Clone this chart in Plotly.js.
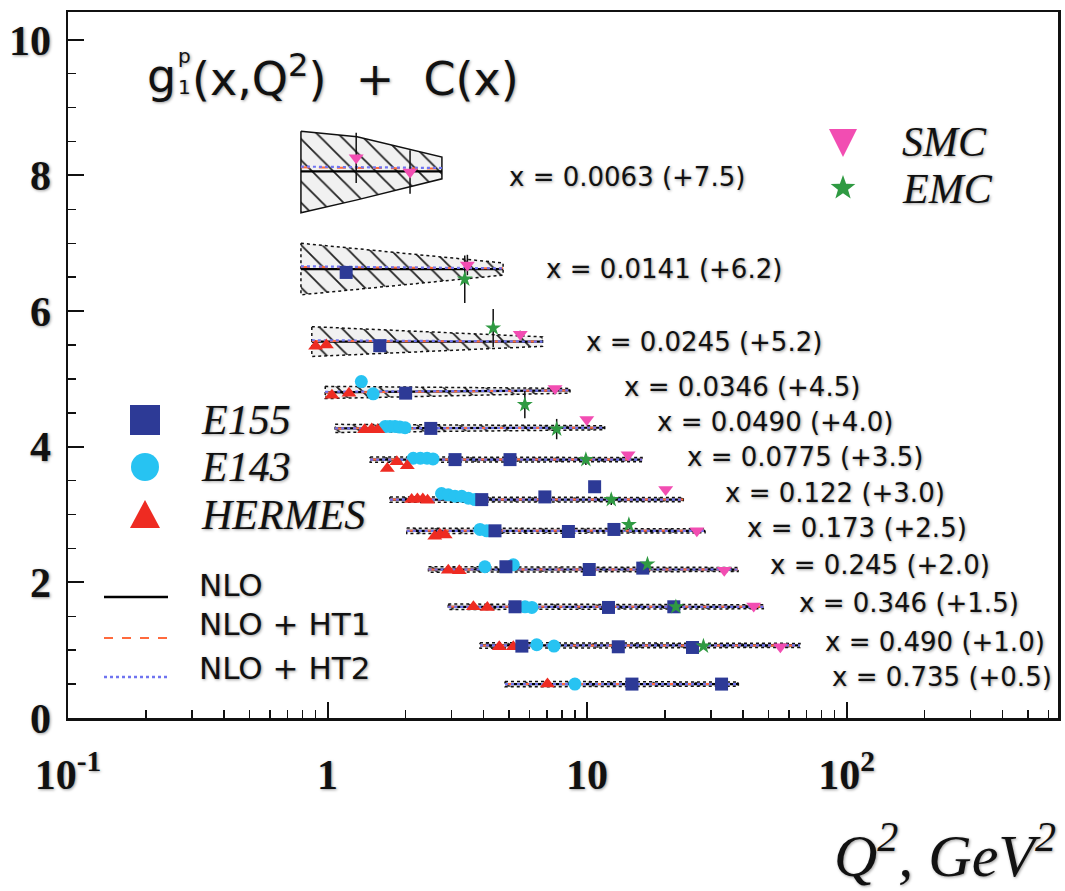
<!DOCTYPE html>
<html><head><meta charset="utf-8">
<script src="https://cdn.plot.ly/plotly-3.0.1.min.js"></script>
<style>html,body{margin:0;padding:0;background:#fff}</style>
</head><body><div id="chart" style="width:1065px;height:891px"></div>
<script>
// ---------- DATA ----------
const rowX = ['0.0063','0.0141','0.0245','0.0346','0.0490','0.0775','0.122','0.173','0.245','0.346','0.490','0.735'];
const rowOffset = [7.5,6.2,5.2,4.5,4.0,3.5,3.0,2.5,2.0,1.5,1.0,0.5];

// theory curves (g1 values, before offset): Q2 range and start/end values
const curveQ2Min = [0.79,0.79,0.87,0.98,1.07,1.46,1.74,2.02,2.45,2.92,3.87,4.83];
const curveQ2Max = [2.76,4.75,6.74,8.6,11.7,16.3,23.5,28.5,38.2,47.8,66.2,38.3];
const nloStart = [0.56,0.42,0.35,0.30,0.27,0.31,0.22,0.26,0.19,0.14,0.07,0.00];
const nloEnd   = [0.56,0.42,0.35,0.33,0.28,0.31,0.22,0.26,0.19,0.14,0.07,0.00];
const ht1Start = [0.62,0.45,0.36,0.30,0.27,0.31,0.22,0.26,0.19,0.14,0.07,0.00];
const ht1End   = [0.60,0.43,0.35,0.33,0.28,0.31,0.22,0.26,0.19,0.14,0.07,0.00];
const ht2Start = [0.63,0.46,0.37,0.31,0.27,0.31,0.22,0.26,0.19,0.14,0.07,0.00];
const ht2End   = [0.61,0.43,0.35,0.33,0.28,0.31,0.22,0.26,0.19,0.14,0.07,0.00];

// uncertainty bands (g1 values, before offset)
const bandQ2 = [[0.79,1.3,2.76],[0.79,4.75],[0.87,6.74],[0.98,8.6],[1.07,11.7],[1.46,16.3],[1.74,23.5],[2.02,28.5],[2.45,38.2],[2.92,47.8],[3.87,66.2],[4.83,38.3]];
const bandHi = [[1.15,1.07,0.77],[0.80,0.51],[0.57,0.42],[0.39,0.36],[0.33,0.31],[0.35,0.34],[0.26,0.25],[0.30,0.29],[0.23,0.22],[0.18,0.17],[0.11,0.10],[0.04,0.03]];
const bandLo = [[-0.05,0.14,0.45],[0.04,0.33],[0.13,0.28],[0.21,0.29],[0.21,0.25],[0.27,0.28],[0.18,0.19],[0.22,0.23],[0.15,0.16],[0.10,0.11],[0.03,0.04],[-0.04,-0.03]];

// E155
const e155Row = [1,2,3,4,5,5,6,6,6,7,7,7,8,8,8,9,9,9,10,10,10,11,11];
const e155Q2  = [1.18,1.59,2.0,2.5,3.1,5.05,3.93,6.88,10.7,4.42,8.48,12.7,4.87,10.2,16.4,5.28,12.1,21.6,5.61,13.2,25.5,14.9,33.0];
const e155G1  = [0.37,0.29,0.29,0.27,0.31,0.31,0.22,0.26,0.41,0.26,0.25,0.28,0.23,0.19,0.21,0.14,0.13,0.14,0.06,0.05,0.04,0.00,0.00];
// E143
const e143Row = [3,3,4,4,4,4,4,5,5,5,5,6,6,6,6,6,6,7,7,8,8,9,9,10,10,11];
const e143Q2  = [1.35,1.50,1.67,1.74,1.82,1.90,1.99,2.14,2.28,2.42,2.55,2.75,2.92,3.10,3.29,3.49,3.70,3.87,4.11,4.04,5.20,5.77,6.13,6.40,7.46,8.98];
const e143G1  = [0.46,0.28,0.30,0.30,0.30,0.29,0.28,0.33,0.33,0.33,0.32,0.31,0.29,0.27,0.27,0.24,0.22,0.28,0.26,0.23,0.26,0.14,0.13,0.08,0.06,0.00];
// HERMES
const hermRow = [2,2,3,3,4,4,4,5,5,5,6,6,6,6,7,7,7,8,8,9,9,10,10,11];
const hermQ2  = [0.90,0.99,1.04,1.21,1.39,1.48,1.56,1.70,1.85,2.03,2.11,2.22,2.33,2.43,2.59,2.71,2.84,2.92,3.22,3.65,4.13,4.59,5.20,7.04];
const hermG1  = [0.28,0.30,0.26,0.29,0.25,0.26,0.25,0.18,0.28,0.22,0.22,0.23,0.23,0.21,0.18,0.21,0.20,0.18,0.17,0.14,0.13,0.05,0.05,0.00];
// SMC
const smcRow = [0,0,1,2,3,4,5,6,7,8,9,10];
const smcQ2  = [1.29,2.08,3.46,5.53,7.53,9.98,14.4,20.1,26.5,33.8,43.9,55.6];
const smcG1  = [0.76,0.55,0.48,0.46,0.36,0.40,0.38,0.37,0.26,0.18,0.15,0.05];
const smcErr = [0.37,0.32,0.15,0.05,0.03,0.03,0.03,0.03,0.02,0.02,0.02,0.02];
// EMC
const emcRow = [1,2,3,4,5,6,7,8,9,10];
const emcQ2  = [3.38,4.35,5.76,7.64,9.9,12.4,14.5,17.1,22.0,28.1];
const emcG1  = [0.27,0.55,0.12,0.26,0.31,0.22,0.35,0.27,0.14,0.06];
const emcErr = [0.35,0.28,0.20,0.15,0.08,0.08,0.05,0.04,0.03,0.03];

const xTickVals = [0.1,1,10,100];
const xTickText = ['10<sup>-1</sup>','1','10','10<sup>2</sup>'];
const yTickVals = [0,2,4,6,8,10];

// ---------- LAYOUT HELPERS ----------
const L=68, R=1058, T=12, B=718;
const px2x = p => (p-L)/(R-L);
const py2y = p => (B-p)/(B-T);
const shadow = '1px 1px 3px rgba(0,0,0,0.4)';

const traces = [];
// bands
bandQ2.forEach((qs,i)=>{
  const xs = qs.concat(qs.slice().reverse(), [qs[0]]);
  const ys = bandHi[i].map(v=>v+rowOffset[i]).concat(bandLo[i].slice().reverse().map(v=>v+rowOffset[i]), [bandHi[i][0]+rowOffset[i]]);
  traces.push({type:'scatter', mode:'lines', x:xs, y:ys, fill:'toself',
    fillcolor:'rgba(200,200,200,0.35)',
    fillpattern:{shape:'\\', size:15, solidity:0.12, fgcolor:'#222', bgcolor:'rgba(215,215,215,0.35)'},
    line:{color:'#111', width:1.5, dash: i===0?'solid':'dot'}, hoverinfo:'skip', showlegend:false});
});
// curves
function curveTrace(st, en, style){
  const x=[], y=[];
  for(let i=0;i<rowX.length;i++){
    x.push(curveQ2Min[i], curveQ2Max[i], null);
    y.push(st[i]+rowOffset[i], en[i]+rowOffset[i], null);
  }
  return Object.assign({type:'scatter', mode:'lines', x, y, connectgaps:false, showlegend:false, hoverinfo:'skip'}, style);
}
traces.push(curveTrace(nloStart, nloEnd, {line:{color:'#000', width:2.2}}));
traces.push(curveTrace(ht1Start, ht1End, {line:{color:'#ff6a3d', width:2, dash:'dash'}}));
traces.push(curveTrace(ht2Start, ht2End, {line:{color:'#6f74f0', width:2.2, dash:'dot'}}));

function pts(rows, q2, g1, marker, err){
  const t = {type:'scatter', mode:'markers', x:q2, y:g1.map((v,i)=>v+rowOffset[rows[i]]), marker, showlegend:false, hoverinfo:'skip'};
  if(err) t.error_y = {type:'data', array:err, visible:true, color:'#111', thickness:1.5, width:0};
  return t;
}
traces.push(pts(e143Row, e143Q2, e143G1, {symbol:'circle', size:13, color:'#27c3f2'}));
traces.push(pts(hermRow, hermQ2, hermG1, {symbol:'triangle-up', size:13, color:'#ee2b22'}));
traces.push(pts(e155Row, e155Q2, e155G1, {symbol:'square', size:13, color:'#2d3a96'}));
traces.push(pts(emcRow, emcQ2, emcG1, {symbol:'star', size:12, color:'#2f9a42'}, emcErr));
traces.push(pts(smcRow, smcQ2, smcG1, {symbol:'triangle-down', size:13, color:'#f24db2'}, smcErr));

// annotations
const ann = [];
const rowLabelPx = [507,544,584,622,655,685,723,745,768,797,823,830];
const rowLabelPy = [177,269,342,387,422,457,493,528,565,603,642,677];
rowX.forEach((xv,i)=>{
  ann.push({xref:'paper', yref:'paper', x:px2x(rowLabelPx[i]), y:py2y(rowLabelPy[i]), xanchor:'left', yanchor:'middle',
    text:'x = '+xv+' (+'+rowOffset[i].toFixed(1)+')', showarrow:false,
    font:{family:'DejaVu Sans', size:26, color:'#111', shadow:shadow}});
});
// title
const titleFont = s => ({family:'DejaVu Sans', size:s, color:'#111', shadow:shadow});
ann.push({xref:'paper', yref:'paper', x:px2x(177), y:py2y(76), xanchor:'right', yanchor:'middle', text:'g', showarrow:false, borderpad:0, font:titleFont(46)});
ann.push({xref:'paper', yref:'paper', x:px2x(177), y:py2y(56), xanchor:'left', yanchor:'middle', text:'p', showarrow:false, borderpad:0, font:titleFont(20)});
ann.push({xref:'paper', yref:'paper', x:px2x(177), y:py2y(87), xanchor:'left', yanchor:'middle', text:'1', showarrow:false, borderpad:0, font:titleFont(20)});
ann.push({xref:'paper', yref:'paper', x:px2x(191), y:py2y(76), xanchor:'left', yanchor:'middle',
  text:'(x,Q<sup>2</sup>)&nbsp;&nbsp;+&nbsp;&nbsp;C(x)', showarrow:false, borderpad:0, font:titleFont(46)});
// x axis title
ann.push({xref:'paper', yref:'paper', x:px2x(1058), y:py2y(852), xanchor:'right', yanchor:'middle',
  text:'Q<sup>2</sup>, GeV<sup>2</sup>', showarrow:false,
  font:{family:'Liberation Serif', size:60, style:'italic', color:'#111', shadow:shadow}});
// legend texts
const serifLeg = [['E155',420],['E143',467],['HERMES',515]];
serifLeg.forEach(([t,py])=>ann.push({xref:'paper', yref:'paper', x:px2x(199), y:py2y(py), xanchor:'left', yanchor:'middle', text:t, showarrow:false,
  font:{family:'Liberation Serif', size:42, style:'italic', color:'#111', shadow:shadow}}));
[['SMC',142],['EMC',189]].forEach(([t,py])=>ann.push({xref:'paper', yref:'paper', x:px2x(900), y:py2y(py), xanchor:'left', yanchor:'middle', text:t, showarrow:false,
  font:{family:'Liberation Serif', size:42, style:'italic', color:'#111', shadow:shadow}}));
[['NLO',585],['NLO + HT1',624],['NLO + HT2',668]].forEach(([t,py])=>ann.push({xref:'paper', yref:'paper', x:px2x(197), y:py2y(py), xanchor:'left', yanchor:'middle', text:t, showarrow:false,
  font:{family:'DejaVu Sans', size:31, color:'#111', shadow:shadow}}));

// legend keys (shapes)
function starPath(ro, ri){
  let d='';
  for(let k=0;k<10;k++){
    const r = k%2===0?ro:ri;
    const a = Math.PI/2 + k*Math.PI/5;
    d += (k===0?'M':'L') + (r*Math.cos(a)).toFixed(2)+','+(r*Math.sin(a)).toFixed(2);
  }
  return d+'Z';
}
function keyShape(cx, cy, path, color){
  return {type:'path', xref:'paper', yref:'paper', xsizemode:'pixel', ysizemode:'pixel', xanchor:px2x(cx), yanchor:py2y(cy),
    path, fillcolor:color, line:{width:0}};
}
const shapes = [
  keyShape(145,420,'M-15,-15L15,-15L15,15L-15,15Z','#2d3a96'),
  {type:'circle', xref:'paper', yref:'paper', xsizemode:'pixel', ysizemode:'pixel', xanchor:px2x(145), yanchor:py2y(467), x0:-14,x1:14,y0:-14,y1:14, fillcolor:'#27c3f2', line:{width:0}},
  keyShape(145,515,'M-15,-13L15,-13L0,15Z','#ee2b22'),
  keyShape(843,142,'M-14,13L14,13L0,-15Z','#f24db2'),
  keyShape(843,188,starPath(13,5.3),'#2f9a42'),
  {type:'line', xref:'paper', yref:'paper', x0:px2x(104), x1:px2x(168), y0:py2y(597), y1:py2y(597), line:{color:'#000', width:2.5}},
  {type:'line', xref:'paper', yref:'paper', x0:px2x(104), x1:px2x(168), y0:py2y(638), y1:py2y(638), line:{color:'#ff6a3d', width:2, dash:'dash'}},
  {type:'line', xref:'paper', yref:'paper', x0:px2x(104), x1:px2x(168), y0:py2y(677), y1:py2y(677), line:{color:'#6f74f0', width:2.5, dash:'dot'}}
];

const minorX = [];
[0.1,1,10,100].forEach(d=>{for(let k=2;k<=9;k++){const v=k*d; if(v<650) minorX.push(v);}});

const tickFont = {family:'Liberation Serif', size:42, weight:'bold', color:'#111', shadow:shadow};
const layout = {
  width:1065, height:891,
  margin:{l:L, r:1065-R, t:T, b:891-B},
  paper_bgcolor:'#fff', plot_bgcolor:'#fff',
  showlegend:false,
  xaxis:{type:'log', range:[-1, 2.815], tickmode:'array', tickvals:xTickVals, ticktext:xTickText,
    ticks:'inside', ticklen:16, tickwidth:2, tickcolor:'#111', showline:true, linewidth:2.5, linecolor:'#111', mirror:true,
    showgrid:false, zeroline:false, ticklabelstandoff:18, tickfont:tickFont,
    minor:{tickmode:'array', tickvals:minorX, ticks:'inside', ticklen:8, tickwidth:1.5, tickcolor:'#111', showgrid:false}},
  yaxis:{range:[0, 10.41], tickmode:'array', tickvals:yTickVals,
    ticks:'inside', ticklen:16, tickwidth:2, tickcolor:'#111', showline:true, linewidth:2.5, linecolor:'#111', mirror:true,
    showgrid:false, zeroline:false, ticklabelstandoff:6, tickfont:tickFont,
    minor:{dtick:0.5, ticks:'inside', ticklen:8, tickwidth:1.5, tickcolor:'#111', showgrid:false}},
  annotations:ann, shapes:shapes
};
Plotly.newPlot('chart', traces, layout, {staticPlot:true, displayModeBar:false});
</script></body></html>
